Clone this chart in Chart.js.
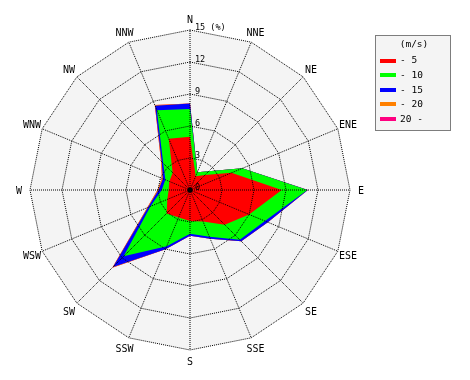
<!DOCTYPE html>
<html>
<head>
<meta charset="utf-8">
<script src="https://cdn.jsdelivr.net/npm/chart.js@4/dist/chart.umd.min.js"></script>
<style>
html,body{margin:0;padding:0;background:#fff;}
#wrap{position:relative;width:470px;height:380px;}
</style>
</head>
<body>
<div id="wrap"><canvas id="c" width="470" height="380"></canvas></div>
<script>
// ---- data ----
const directions = ['N','NNE','NE','ENE','E','ESE','SE','SSE','S','SSW','SW','WSW','W','WNW','NW','NNW'];
const speedClasses = ['- 5','- 10','- 15','- 20','20 -'];
const speedUnit = '(m/s)';
const classColors = ['#ff0000','#00ff00','#0000ff','#ff8000','#ff0080'];
// frequency (%) per speed class and direction
const freqUpTo5   = [5.0,1.4,2.0,4.2,8.6,6.0,4.6,3.2,2.9,2.8,3.1,2.3,2.0,2.1,2.3,5.2];
const freq5to10   = [2.6,0.4,0.5,1.1,2.4,1.6,2.0,1.55,1.2,2.9,5.7,1.7,0.65,0.4,1.25,2.9];
const freq10to15  = [0.5,0,0,0,0.05,0.3,0.2,0.2,0.2,0.3,1.4,0.25,0.3,0.25,0.2,0.45];
const freq15to20  = [0,0,0,0,0,0,0,0,0,0,0.1,0.1,0.1,0.1,0.1,0.07];
const freqOver20  = [0,0,0,0,0,0,0,0,0,0,0,0,0,0,0,0];
const radialTicks = [0,3,6,9,12,15];
const tickUnit = '(%)';

const classFreqs = [freqUpTo5, freq5to10, freq10to15, freq15to20, freqOver20];

// stacked (cumulative) values per class
const stacked = [];
classFreqs.forEach((arr, k) => {
  stacked.push(arr.map((v, i) => (k ? stacked[k-1][i] : 0) + v));
});

const datasets = stacked.map((vals, k) => ({
  label: speedClasses[k],
  data: vals,
  backgroundColor: classColors[k],
  borderColor: 'rgba(0,0,0,0)',
  borderWidth: 0,
  pointRadius: 0,
  fill: 'origin'
}));

const MONO = '"DejaVu Sans Mono", "Liberation Mono", monospace';

const bgPlugin = {
  id: 'bgPoly',
  beforeDatasetsDraw(chart) {
    const s = chart.scales.r, ctx = chart.ctx;
    ctx.save();
    ctx.beginPath();
    for (let i = 0; i < directions.length; i++) {
      const p = s.getPointPosition(i, s.drawingArea);
      if (i === 0) ctx.moveTo(p.x, p.y); else ctx.lineTo(p.x, p.y);
    }
    ctx.closePath();
    ctx.fillStyle = '#f4f4f4';
    ctx.fill();
    ctx.restore();
  },
  afterDraw(chart) {
    const s = chart.scales.r, ctx = chart.ctx;
    ctx.save();
    // center dot
    ctx.fillStyle = '#000';
    ctx.beginPath();
    ctx.arc(s.xCenter, s.yCenter, 2.5, 0, Math.PI*2);
    ctx.fill();
    // tick labels
    ctx.font = '8.5px ' + MONO;
    ctx.textAlign = 'left';
    ctx.textBaseline = 'alphabetic';
    radialTicks.forEach(v => {
      const d = s.getDistanceFromCenterForValue(v);
      const txt = v === radialTicks[radialTicks.length-1] ? v + ' ' + tickUnit : String(v);
      ctx.fillText(txt, s.xCenter + 5, s.yCenter - d);
    });
    // direction labels
    ctx.font = '10px ' + MONO;
    ctx.textAlign = 'center';
    ctx.textBaseline = 'middle';
    directions.forEach((lab, i) => {
      const p = s.getPointPosition(i, s.drawingArea + 11);
      ctx.fillText(lab, p.x, p.y + 1);
    });
    // legend box
    const bx = 375.5, by = 35.5, bw = 75, bh = 95;
    ctx.fillStyle = '#f4f4f4';
    ctx.fillRect(bx, by, bw, bh);
    ctx.strokeStyle = '#000';
    ctx.lineWidth = 1;
    ctx.setLineDash([1,1]);
    ctx.strokeRect(bx, by, bw, bh);
    ctx.setLineDash([]);
    ctx.fillStyle = '#000';
    ctx.font = '9.5px ' + MONO;
    ctx.textAlign = 'center';
    ctx.fillText(speedUnit, 414, 45);
    ctx.textAlign = 'left';
    speedClasses.forEach((lab, k) => {
      const yc = 60.5 + k * 14.6;
      ctx.fillStyle = classColors[k];
      ctx.fillRect(380, Math.round(yc - 2), 16, 4);
      ctx.fillStyle = '#000';
      ctx.fillText(lab, 400, yc + 0.5);
    });
    ctx.restore();
  }
};

new Chart(document.getElementById('c'), {
  type: 'radar',
  data: { labels: directions, datasets: datasets },
  options: {
    responsive: false,
    animation: false,
    devicePixelRatio: 1,
    events: [],
    layout: { padding: { left: 30, top: 30, right: 119, bottom: 29 } },
    plugins: { legend: { display: false }, tooltip: { enabled: false } },
    scales: {
      r: {
        min: 0,
        max: 15,
        ticks: { display: false, stepSize: 3 },
        pointLabels: { display: false },
        grid: { color: '#000', lineWidth: 1, z: 1, borderDash: [1,1] },
        border: { dash: [1,1] },
        angleLines: { color: '#000', lineWidth: 1, borderDash: [1,1] }
      }
    }
  },
  plugins: [bgPlugin]
});
</script>
</body>
</html>
